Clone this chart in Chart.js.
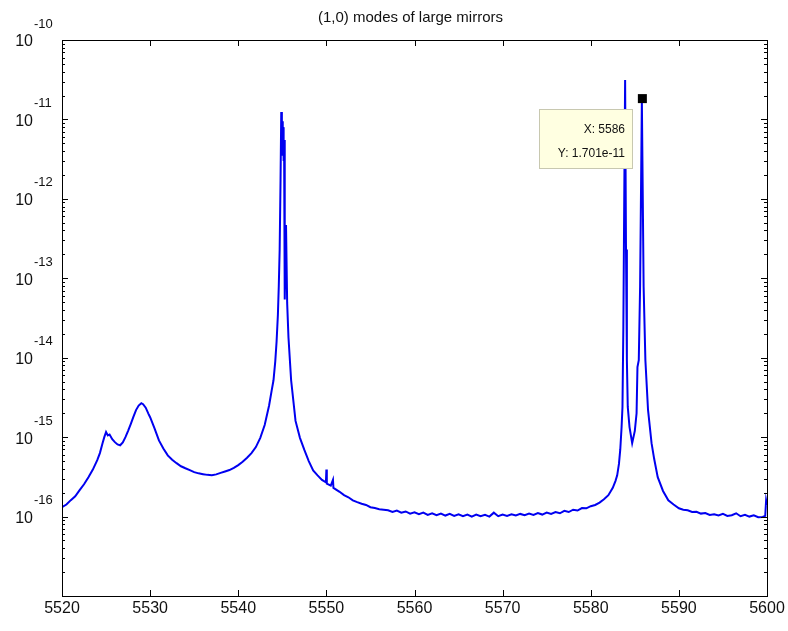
<!DOCTYPE html>
<html>
<head>
<meta charset="utf-8">
<script src="https://cdn.jsdelivr.net/npm/chart.js@4.4.1/dist/chart.umd.min.js"></script>
<style>
  html, body { margin: 0; padding: 0; background: #fff; }
  #wrap { width: 788px; height: 631px; }
</style>
</head>
<body>
<div id="wrap"><canvas id="modes" width="788" height="631"></canvas></div>
<script>
// (1,0) modes of large mirrors - spectrum

const chartTitle = '(1,0) modes of large mirrors';

// frequency axis (Hz)
const freqs = [
    5520.0, 5520.5, 5521.0, 5521.5, 5522.0, 5522.5, 5523.0, 5523.5, 5524.0, 5524.3,
    5524.6, 5524.8, 5525.0, 5525.2, 5525.4, 5525.7, 5526.0, 5526.3, 5526.6, 5526.9,
    5527.2, 5527.5, 5527.8, 5528.1, 5528.4, 5528.7, 5529.0, 5529.2, 5529.5, 5529.8,
    5530.0, 5530.5, 5531.0, 5531.5, 5532.0, 5532.5, 5533.0, 5533.5, 5534.0, 5534.5,
    5535.0, 5535.5, 5536.0, 5536.5, 5537.0, 5537.5, 5538.0, 5538.5, 5539.0, 5539.5,
    5540.0, 5540.5, 5541.0, 5541.5, 5542.0, 5542.5, 5543.0, 5543.5, 5543.8, 5544.0,
    5544.2, 5544.35, 5544.5, 5544.6, 5544.7, 5544.8, 5544.88, 5544.95, 5545.0, 5545.05,
    5545.1, 5545.15, 5545.2, 5545.25, 5545.3, 5545.42, 5545.55, 5545.7, 5546.0, 5546.5,
    5547.0, 5547.5, 5548.0, 5548.5, 5549.0, 5549.5, 5549.95, 5550.0, 5550.05, 5550.5,
    5550.75, 5550.8, 5551.5, 5552.0, 5552.5, 5553.0, 5553.5, 5554.0, 5554.5, 5555.0,
    5555.5, 5556.0, 5556.5, 5557.0, 5557.5, 5558.0, 5558.5, 5559.0, 5559.5, 5560.0,
    5560.5, 5561.0, 5561.5, 5562.0, 5562.5, 5563.0, 5563.5, 5564.0, 5564.5, 5565.0,
    5565.5, 5566.0, 5566.5, 5567.0, 5567.5, 5568.0, 5568.5, 5569.0, 5569.5, 5570.0,
    5570.5, 5571.0, 5571.5, 5572.0, 5572.5, 5573.0, 5573.5, 5574.0, 5574.5, 5575.0,
    5575.5, 5576.0, 5576.5, 5577.0, 5577.5, 5578.0, 5578.5, 5579.0, 5579.5, 5580.0,
    5580.5, 5581.0, 5581.5, 5582.0, 5582.5, 5582.8, 5583.0, 5583.2, 5583.35, 5583.5,
    5583.6, 5583.7, 5583.8, 5583.9, 5584.0, 5584.1, 5584.2, 5584.4, 5584.7, 5585.0,
    5585.2, 5585.3, 5585.45, 5585.6, 5585.8, 5586.0, 5586.2, 5586.5, 5586.9, 5587.2,
    5587.6, 5588.2, 5588.8, 5589.4, 5590.0, 5590.5, 5591.0, 5591.5, 5592.0, 5592.5,
    5593.0, 5593.5, 5594.0, 5594.5, 5595.0, 5595.5, 5596.0, 5596.5, 5597.0, 5597.5,
    5598.0, 5598.5, 5599.0, 5599.5, 5599.8, 5599.9, 5600.0
];

// response amplitude
const response = [
    1.31e-16, 1.42e-16, 1.61e-16, 1.80e-16, 2.15e-16, 2.55e-16, 3.13e-16, 3.90e-16, 5.13e-16, 6.3e-16,
    8.4e-16, 1.0e-15, 1.16e-15, 1.05e-15, 1.08e-15, 9.4e-16, 8.65e-16, 8.1e-16, 7.9e-16, 8.6e-16,
    1.0e-15, 1.2e-15, 1.46e-15, 1.8e-15, 2.19e-15, 2.5e-15, 2.68e-15, 2.6e-15, 2.35e-15, 1.98e-15,
    1.78e-15, 1.29e-15, 9.1e-16, 7.2e-16, 5.9e-16, 5.2e-16, 4.7e-16, 4.3e-16, 4.06e-16, 3.85e-16,
    3.63e-16, 3.5e-16, 3.42e-16, 3.35e-16, 3.31e-16, 3.4e-16, 3.55e-16, 3.7e-16, 3.85e-16, 4.1e-16,
    4.45e-16, 4.9e-16, 5.5e-16, 6.3e-16, 7.5e-16, 9.8e-16, 1.42e-15, 2.5e-15, 3.9e-15, 5.2e-15,
    9.0e-15, 1.6e-14, 3.5e-14, 8.0e-14, 2.3e-13, 1.73e-12, 1.24e-11, 6.0e-12, 9.5e-12, 3.5e-12,
    8.0e-12, 3.0e-12, 5.5e-12, 2.7e-12, 5.4e-14, 4.7e-13, 4.9e-14, 1.8e-14, 5.2e-15, 1.6e-15,
    9.8e-16, 6.9e-16, 5.0e-16, 3.8e-16, 3.3e-16, 2.9e-16, 2.7e-16, 3.9e-16, 2.6e-16, 2.45e-16,
    2.9e-16, 2.3e-16, 2.05e-16, 1.86e-16, 1.75e-16, 1.6e-16, 1.52e-16, 1.45e-16, 1.40e-16, 1.31e-16,
    1.28e-16, 1.24e-16, 1.22e-16, 1.2e-16, 1.14e-16, 1.19e-16, 1.12e-16, 1.16e-16, 1.09e-16, 1.13e-16,
    1.07e-16, 1.12e-16, 1.05e-16, 1.10e-16, 1.04e-16, 1.09e-16, 1.03e-16, 1.08e-16, 1.02e-16, 1.07e-16,
    1.01e-16, 1.06e-16, 1.0e-16, 1.06e-16, 1.01e-16, 1.05e-16, 1.0e-16, 1.12e-16, 1.01e-16, 1.06e-16,
    1.02e-16, 1.07e-16, 1.03e-16, 1.08e-16, 1.04e-16, 1.09e-16, 1.05e-16, 1.11e-16, 1.06e-16, 1.12e-16,
    1.08e-16, 1.14e-16, 1.10e-16, 1.18e-16, 1.14e-16, 1.22e-16, 1.19e-16, 1.28e-16, 1.27e-16, 1.35e-16,
    1.4e-16, 1.5e-16, 1.65e-16, 1.86e-16, 2.3e-16, 2.8e-16, 3.3e-16, 4.6e-16, 7.0e-16, 1.34e-15,
    2.4e-15, 2.45e-14, 9.5e-13, 3.13e-11, 2.3e-13, 9.3e-15, 2.4e-15, 1.34e-15, 8.4e-16, 1.2e-15,
    2.0e-15, 7.6e-15, 9.3e-15, 7.8e-14, 1.701e-11, 7.8e-14, 9.3e-15, 2.2e-15, 8.4e-16, 5.3e-16,
    3.13e-16, 2.1e-16, 1.6e-16, 1.42e-16, 1.27e-16, 1.22e-16, 1.2e-16, 1.14e-16, 1.15e-16, 1.09e-16,
    1.11e-16, 1.05e-16, 1.07e-16, 1.03e-16, 1.08e-16, 1.02e-16, 1.04e-16, 1.10e-16, 1.01e-16, 1.05e-16,
    1.0e-16, 1.04e-16, 0.98e-16, 0.99e-16, 1.02e-16, 1.6e-16, 1.4e-16
];

// tick labels
const xTicks = [5520, 5530, 5540, 5550, 5560, 5570, 5580, 5590, 5600];
const yExponents = [-10, -11, -12, -13, -14, -15, -16];

// data tip text and the point it marks
const tipLines = ['X: 5586', 'Y: 1.701e-11'];
const tipFreq = 5585.8;

const FONT = '"Liberation Sans", Arial, sans-serif';

// Draws a MATLAB style box axis with inward ticks, labels and the data tip
const matlabAxes = {
    id: 'matlabAxes',
    afterDatasetsDraw(chart) {
        const ctx = chart.ctx;
        const area = chart.chartArea;
        const xs = chart.scales.x;
        const ys = chart.scales.y;

        ctx.save();
        ctx.strokeStyle = '#000';
        ctx.lineWidth = 1;
        ctx.strokeRect(area.left + 0.5, area.top + 0.5, area.right - area.left, area.bottom - area.top);

        // x ticks top and bottom
        ctx.beginPath();
        xTicks.forEach(v => {
            const px = Math.round(xs.getPixelForValue(v)) + 0.5;
            ctx.moveTo(px, area.bottom);
            ctx.lineTo(px, area.bottom - 6);
            ctx.moveTo(px, area.top);
            ctx.lineTo(px, area.top + 6);
        });

        // y ticks, majors and minors on both sides
        for (let e = -17; e <= -10; e++) {
            for (let m = 1; m <= 9; m++) {
                if (e === -10 && m > 1) break;
                const py = Math.round(ys.getPixelForValue(m * Math.pow(10, e))) + 0.5;
                const len = m === 1 ? 6 : 3;
                ctx.moveTo(area.left, py);
                ctx.lineTo(area.left + len, py);
                ctx.moveTo(area.right, py);
                ctx.lineTo(area.right - len, py);
            }
        }
        ctx.stroke();

        // labels
        ctx.fillStyle = '#111';
        ctx.font = '16px ' + FONT;
        ctx.textAlign = 'center';
        ctx.textBaseline = 'middle';
        xTicks.forEach(v => {
            ctx.fillText(String(v), xs.getPixelForValue(v), area.bottom + 13);
        });

        yExponents.forEach(e => {
            const py = ys.getPixelForValue(Math.pow(10, e));
            ctx.font = '16px ' + FONT;
            ctx.textAlign = 'right';
            ctx.fillText('10', 33, py + 2);
            ctx.font = '13px ' + FONT;
            ctx.textAlign = 'left';
            ctx.fillText(String(e), 34, py - 16);
        });

        // title
        ctx.font = '15px ' + FONT;
        ctx.textAlign = 'center';
        ctx.fillText(chartTitle, (area.left + area.right) / 2 - 4, 18);

        // data tip
        const pt = chart.getDatasetMeta(0).data[freqs.indexOf(tipFreq)];
        ctx.fillStyle = '#ffffe1';
        ctx.strokeStyle = '#c8c8b0';
        ctx.fillRect(539, 109, 93, 59);
        ctx.strokeRect(539.5, 109.5, 93, 59);
        ctx.fillStyle = '#111';
        ctx.font = '12px ' + FONT;
        ctx.textAlign = 'right';
        ctx.fillText(tipLines[0], 625, 130);
        ctx.fillText(tipLines[1], 625, 154);
        ctx.fillStyle = '#000';
        ctx.fillRect(pt.x - 4, pt.y - 7, 9, 9);
        ctx.restore();
    }
};

new Chart(document.getElementById('modes'), {
    type: 'line',
    data: {
        datasets: [{
            data: freqs.map((f, i) => ({ x: f, y: response[i] })),
            borderColor: '#0000f0',
            borderWidth: 2,
            pointRadius: 0,
            tension: 0,
            fill: false
        }]
    },
    options: {
        responsive: false,
        animation: false,
        devicePixelRatio: 1,
        layout: { padding: { left: 62, right: 21, top: 40, bottom: 35 } },
        plugins: {
            legend: { display: false },
            tooltip: { enabled: false },
            title: { display: false }
        },
        scales: {
            x: { type: 'linear', min: 5520, max: 5600, display: false },
            y: { type: 'logarithmic', min: 1e-17, max: 1e-10, display: false }
        }
    },
    plugins: [matlabAxes]
});
</script>
</body>
</html>
